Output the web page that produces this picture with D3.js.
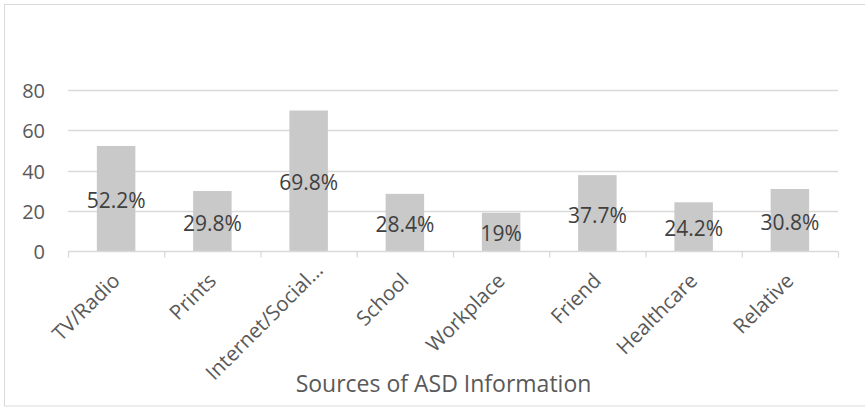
<!DOCTYPE html>
<html><head><meta charset="utf-8">
<script src="https://cdn.jsdelivr.net/npm/d3@7"></script>
<style>body{margin:0;background:#fff;} svg{display:block;}</style>
</head><body>
<svg id="c" width="865" height="407"></svg>
<script>
const categories = ["TV/Radio","Prints","Internet/Social…","School","Workplace","Friend","Healthcare","Relative"];
const values = [52.2, 29.8, 69.8, 28.4, 19, 37.7, 24.2, 30.8];
const valueLabels = ["52.2%","29.8%","69.8%","28.4%","19%","37.7%","24.2%","30.8%"];
const yTicks = [0, 20, 40, 60, 80];
const xTitle = "Sources of ASD Information";

const svg = d3.select("#c");
const font = "'Open Sans', sans-serif";
const mLeft = 68, mRight = 838, mTop = 90, mBottom = 251;

svg.append("rect").attr("x",4.5).attr("y",4.5).attr("width",900).attr("height",401.5)
  .attr("fill","#fff").attr("stroke","#d9d9d9").attr("stroke-width",1);

const x = d3.scaleBand().domain(categories).range([mLeft,mRight]).paddingInner(0.6).paddingOuter(0.3);
const y = d3.scaleLinear().domain([0,80]).range([mBottom,mTop]);

// gridlines
svg.append("g").selectAll("line").data(yTicks.filter(d=>d>0)).join("line")
  .attr("x1",mLeft).attr("x2",mRight).attr("y1",d=>Math.round(y(d))+0.5).attr("y2",d=>Math.round(y(d))+0.5)
  .attr("stroke","#d9d9d9").attr("stroke-width",1.3);

// y tick labels
svg.append("g").selectAll("text").data(yTicks).join("text")
  .attr("x",45).attr("y",d=>y(d)+1).attr("dy","0.36em").attr("text-anchor","end")
  .attr("font-family",font).attr("font-size",20).attr("fill","#595959").text(d=>d);

// bars
svg.append("g").selectAll("rect").data(values).join("rect")
  .attr("x",(d,i)=>x(categories[i])).attr("width",x.bandwidth())
  .attr("y",d=>y(d)).attr("height",d=>y(0)-y(d)).attr("fill","#c9c9c9");

// x axis
const xAxis = d3.axisBottom(d3.scaleLinear().domain([0,categories.length]).range([mLeft,mRight]))
  .tickValues(d3.range(categories.length+1)).tickSize(6).tickFormat("");
const ax = svg.append("g").attr("transform",`translate(0,${Math.round(mBottom)+0.5})`).call(xAxis);
ax.selectAll("path,line").attr("stroke","#d9d9d9").attr("stroke-width",1.3);
ax.select(".domain").attr("d",`M${mLeft},0H${mRight}`);

// category labels
svg.append("g").selectAll("text").data(categories).join("text")
  .attr("transform",d=>`translate(${x(d)+x.bandwidth()/2+5},${mBottom+31}) rotate(-45)`)
  .attr("text-anchor","end").attr("dx",d=>d.endsWith("…")?15:0)
  .attr("font-family",font).attr("font-size",20.5).attr("fill","#595959").text(d=>d);

// data labels
svg.append("g").selectAll("text").data(values).join("text")
  .attr("x",(d,i)=>x(categories[i])+x.bandwidth()/2).attr("y",d=>y(d/2)+2)
  .attr("dy","0.36em").attr("text-anchor","middle")
  .attr("font-family",font).attr("font-size",21).attr("fill","#404040").text((d,i)=>valueLabels[i]);

// axis title
svg.append("text").attr("x",443.5).attr("y",392).attr("text-anchor","middle")
  .attr("font-family",font).attr("font-size",23).attr("fill","#595959").text(xTitle);
</script>
</body></html>
